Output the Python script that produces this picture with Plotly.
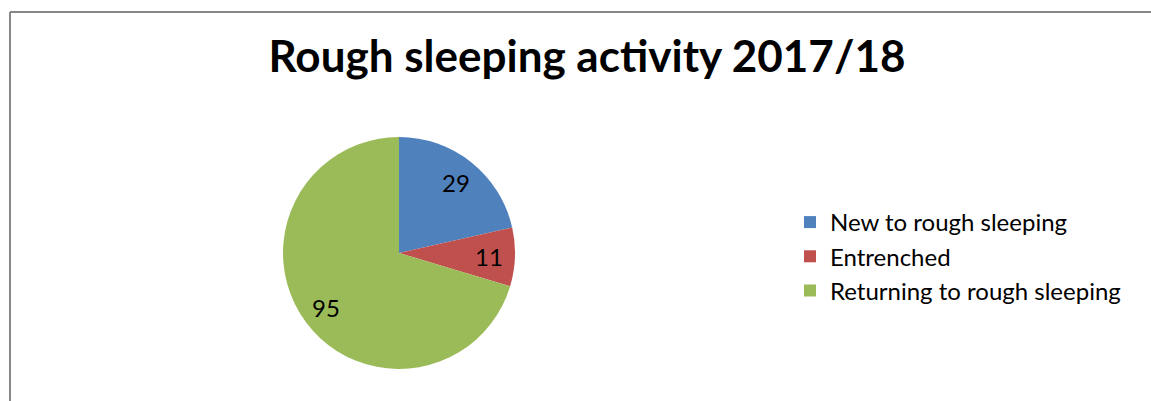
import math
import plotly.graph_objects as go

labels = ["New to rough sleeping", "Entrenched", "Returning to rough sleeping"]
values = [29, 11, 95]
colors = ["#4F81BD", "#C0504D", "#9BBB59"]
title_text = "Rough sleeping activity 2017/18"

W, H = 1151, 401
FONT = "Lato, 'Open Sans', sans-serif"

# pie geometry (pixels)
CX, CY, R = 399, 253, 116
LABEL_R = 0.78 * R

fig = go.Figure(go.Pie(
    labels=labels,
    values=values,
    sort=False,
    direction="clockwise",
    rotation=0,
    marker=dict(colors=colors, line=dict(width=0)),
    textinfo="none",
    domain=dict(x=[(CX - R) / W, (CX + R) / W], y=[1 - (CY + R) / H, 1 - (CY - R) / H]),
    hoverinfo="label+value",
))

# data labels placed along each slice's bisector, derived from the values
total = sum(values)
annotations = []
cum = 0
for v in values:
    mid = (cum + v / 2) / total * 2 * math.pi
    cum += v
    px = CX + LABEL_R * math.sin(mid)
    py = CY - LABEL_R * math.cos(mid)
    annotations.append(dict(x=px / W, y=1 - py / H, xref="paper", yref="paper",
                            text=str(v), showarrow=False, xanchor="center", yanchor="middle",
                            font=dict(family=FONT, size=24, color="#000000")))

fig.update_layout(
    width=W, height=H,
    margin=dict(l=0, r=0, t=0, b=0),
    paper_bgcolor="white",
    plot_bgcolor="white",
    title=dict(text="<b>" + title_text + "</b>", x=587 / W, xanchor="center",
               y=1 - 57 / H, yanchor="middle",
               font=dict(family=FONT, size=44, color="#000000")),
    legend=dict(x=790 / W, xanchor="left", y=1 - 200 / H, yanchor="top",
                font=dict(family=FONT, size=24, color="#000000"),
                bgcolor="rgba(0,0,0,0)", itemclick=False),
    showlegend=True,
    annotations=annotations,
    shapes=[
        dict(type="line", xref="paper", yref="paper", x0=10 / W, x1=1, y0=1 - 12 / H, y1=1 - 12 / H,
             line=dict(color="#878787", width=2)),
        dict(type="line", xref="paper", yref="paper", x0=10 / W, x1=10 / W, y0=0, y1=1 - 12 / H,
             line=dict(color="#878787", width=2)),
    ],
)

fig.write_html("out.html", config={"displayModeBar": False},
               post_script=("document.head.insertAdjacentHTML('beforeend',"
                            "'<style>::-webkit-scrollbar{display:none;width:0;height:0}"
                            "html,body{margin:0;padding:0;overflow:hidden;border:0}</style>');"))
